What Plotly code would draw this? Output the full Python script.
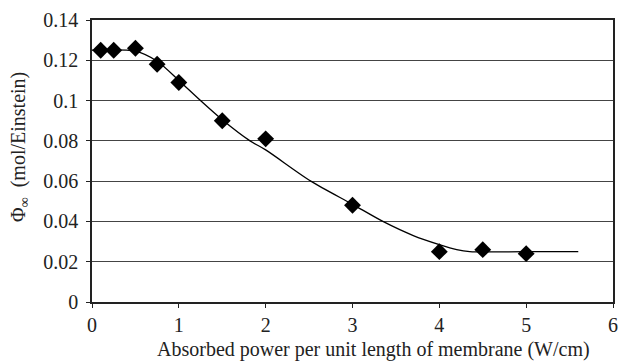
import plotly.graph_objects as go

# Measured data
power = [0.1, 0.25, 0.5, 0.75, 1.0, 1.5, 2.0, 3.0, 4.0, 4.5, 5.0]
phi = [0.125, 0.125, 0.126, 0.118, 0.109, 0.090, 0.081, 0.048, 0.025, 0.026, 0.024]

# Fitted curve
fit_x = [0.0, 0.5, 0.75, 1.0, 1.25, 1.5, 1.82, 2.0, 2.52, 3.0, 3.35, 3.7, 4.0, 4.2, 4.35, 5.0, 5.6]
fit_y = [0.125, 0.1245, 0.1195, 0.110, 0.100, 0.0905, 0.080, 0.0755, 0.060, 0.0485, 0.040, 0.033, 0.0285, 0.026, 0.025, 0.025, 0.025]

x_ticks = [0, 1, 2, 3, 4, 5, 6]
y_ticks = [0, 0.02, 0.04, 0.06, 0.08, 0.1, 0.12, 0.14]

FAM = "Liberation Serif"
tick_font = dict(family=FAM, size=20, color="#222")
title_font = dict(family=FAM, size=20, color="#222")

fig = go.Figure()
fig.add_trace(go.Scatter(x=fit_x, y=fit_y, mode="lines",
                         line=dict(color="black", width=1.3, shape="spline", smoothing=0.8),
                         hoverinfo="skip", showlegend=False))
fig.add_trace(go.Scatter(x=power, y=phi, mode="markers",
                         marker=dict(symbol="diamond", size=13, color="black"),
                         showlegend=False))

fig.update_layout(
    width=624, height=364,
    margin=dict(l=92, r=6, t=20, b=62),
    paper_bgcolor="white", plot_bgcolor="white",
    font=tick_font,
    xaxis=dict(range=[0, 6], tickvals=x_ticks, ticks="outside", ticklen=4,
               tickcolor="#222", showline=True, linecolor="#222", linewidth=1.5,
               mirror=True, showgrid=False, zeroline=False, tickfont=tick_font),
    yaxis=dict(range=[0, 0.14], tickvals=y_ticks, ticks="outside", ticklen=4,
               tickcolor="#222", showline=True, linecolor="#222", linewidth=1.5,
               mirror=True, showgrid=True, gridcolor="#444", gridwidth=1,
               zeroline=False, tickfont=tick_font, ticklabelstandoff=4),
    annotations=[
        dict(text="Absorbed power per unit length of membrane (W/cm)",
             xref="paper", yref="paper", x=0.54, y=0, yshift=-47,
             xanchor="center", yanchor="middle", showarrow=False, font=title_font),
        dict(text="Φ<sub>∞</sub>  (mol/Einstein)",
             xref="paper", yref="paper", x=0, xshift=-72, y=0.55,
             xanchor="center", yanchor="middle", textangle=-90,
             showarrow=False, font=title_font),
    ],
)

fig.write_html("out.html")
